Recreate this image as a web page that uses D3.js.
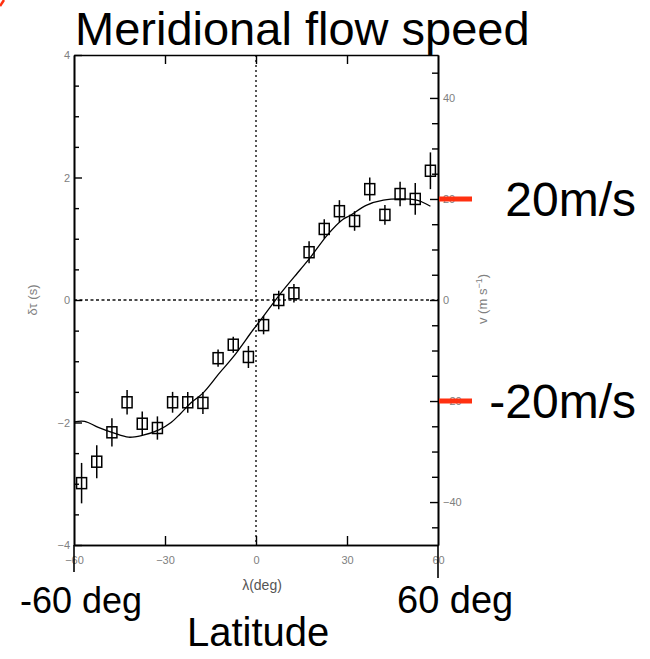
<!DOCTYPE html>
<html><head><meta charset="utf-8">
<script src="https://cdn.jsdelivr.net/npm/d3@7"></script>
<style>body{margin:0;background:#fff}svg{display:block}</style>
</head><body><svg id="c" width="650" height="659"></svg>
<script>
// ---- data ----
const lat = [-57.5,-52.5,-47.5,-42.5,-37.5,-32.5,-27.5,-22.5,-17.5,-12.5,-7.5,-2.5,2.5,7.5,12.5,17.5,22.5,27.5,32.5,37.5,42.5,47.5,52.5,57.5];
const tau = [-2.99,-2.64,-2.16,-1.67,-2.02,-2.09,-1.67,-1.67,-1.68,-0.95,-0.73,-0.93,-0.41,0.0,0.11,0.78,1.16,1.45,1.29,1.81,1.39,1.73,1.65,2.11];
const tauErr = [0.33,0.27,0.23,0.2,0.2,0.19,0.17,0.17,0.18,0.14,0.13,0.18,0.15,0.15,0.15,0.18,0.16,0.18,0.16,0.19,0.16,0.2,0.26,0.3];
const fitLat = [-60,-56.5,-52,-47,-42,-37.5,-32,-28,-25,-21.5,-17.5,-12,-7.5,-1,1.5,8,14.5,18,23.5,28.5,31,36.5,42,47.5,53,57.5];
const fitTau = [-1.99,-1.98,-2.08,-2.17,-2.24,-2.21,-2.12,-2.0,-1.86,-1.68,-1.52,-1.19,-0.93,-0.49,-0.33,0.1,0.49,0.7,1.06,1.31,1.38,1.55,1.63,1.65,1.63,1.53];
const xTicks = [-60,-30,0,30,60];
const xInner = [-30,0,30];
const yTicks = [-4,-2,0,2,4];
const yMinor = [-3.5,-3,-2.5,-1.5,-1,-0.5,0.5,1,1.5,2.5,3,3.5];
const vTicks = [-40,-20,0,20,40];
const vMinor = [-45,-35,-30,-25,-15,-10,-5,5,10,15,25,30,35,45];
const vMarks = [20,-20];
const vMarkLabels = ["20m/s","-20m/s"];
const vMax = 48.5;

// ---- scales ----
const svg = d3.select("#c");
const x = d3.scaleLinear().domain([-60,60]).range([74,438]);
const y = d3.scaleLinear().domain([-4,4]).range([545,55]);
const yv = d3.scaleLinear().domain([-vMax,vMax]).range([545,55]);
const gray = "#808080";
const tickFont = "Liberation Sans, Arial, sans-serif";

// corner red mark
svg.append("line").attr("x1",0).attr("y1",6).attr("x2",4).attr("y2",0)
  .attr("stroke","#ff3010").attr("stroke-width",2.5);

// title
svg.append("text").attr("x",75).attr("y",45).attr("font-family",tickFont)
  .attr("font-size",47).attr("fill","#000").text("Meridional flow speed");

// reference dashed lines
svg.append("line").attr("x1",x(-60)).attr("x2",x(60)).attr("y1",y(0)).attr("y2",y(0))
  .attr("stroke","#111").attr("stroke-width",1.4).attr("stroke-dasharray","3,2.5");
svg.append("line").attr("x1",x(0)).attr("x2",x(0)).attr("y1",y(4)).attr("y2",y(-4))
  .attr("stroke","#111").attr("stroke-width",1.4).attr("stroke-dasharray","2,3");

// axes
function styleAxis(g){
  g.selectAll("path.domain").attr("stroke","#000").attr("stroke-width",1.6);
  g.selectAll(".tick line").attr("stroke","#000").attr("stroke-width",1.4);
  g.selectAll(".tick text").attr("fill",gray).attr("font-family",tickFont).attr("font-size",11);
}
// left
const gl = svg.append("g").attr("transform",`translate(${x(-60)},0)`)
  .call(d3.axisLeft(y).tickValues(yTicks).tickSize(-8).tickSizeOuter(0).tickPadding(4).tickFormat(d3.format("d")));
styleAxis(gl);
const glm = svg.append("g").attr("transform",`translate(${x(-60)},0)`)
  .call(d3.axisLeft(y).tickValues(yMinor).tickSize(-5).tickSizeOuter(0).tickFormat(""));
styleAxis(glm);
// right
const gr = svg.append("g").attr("transform",`translate(${x(60)},0)`)
  .call(d3.axisRight(yv).tickValues(vTicks).tickSize(-8).tickSizeOuter(0).tickPadding(5).tickFormat(d3.format("d")));
styleAxis(gr);
const grm = svg.append("g").attr("transform",`translate(${x(60)},0)`)
  .call(d3.axisRight(yv).tickValues(vMinor).tickSize(-6).tickSizeOuter(0).tickFormat(""));
styleAxis(grm);
// bottom
const gb = svg.append("g").attr("transform",`translate(0,${y(-4)})`)
  .call(d3.axisBottom(x).tickValues(xTicks).tickSize(0).tickSizeOuter(0).tickPadding(11).tickFormat(d3.format("d")));
styleAxis(gb);
const gbi = svg.append("g").attr("transform",`translate(0,${y(-4)})`)
  .call(d3.axisBottom(x).tickValues(xInner).tickSize(-9).tickSizeOuter(0).tickFormat(""));
styleAxis(gbi);
// top
const gt = svg.append("g").attr("transform",`translate(0,${y(4)})`)
  .call(d3.axisTop(x).tickValues(xInner).tickSize(-9).tickSizeOuter(0).tickFormat(""));
styleAxis(gt);
// extended frame lines below the axis
svg.append("line").attr("x1",x(-60)).attr("x2",x(-60)).attr("y1",y(-4)).attr("y2",y(-4)+27)
  .attr("stroke","#000").attr("stroke-width",1.6);
svg.append("line").attr("x1",x(60)).attr("x2",x(60)).attr("y1",y(-4)).attr("y2",y(-4)+33)
  .attr("stroke","#000").attr("stroke-width",1.6);

// axis titles
svg.append("text").attr("transform",`translate(37,${y(0)}) rotate(-90)`)
  .attr("text-anchor","middle").attr("font-family",tickFont).attr("font-size",13).attr("fill",gray)
  .text("δτ (s)");
const vl = svg.append("text").attr("transform",`translate(487,${y(0)-1}) rotate(-90)`)
  .attr("text-anchor","middle").attr("font-family",tickFont).attr("font-size",13).attr("fill",gray);
vl.append("tspan").text("v (m s");
vl.append("tspan").attr("dy",-5).attr("font-size",9).text("−1");
vl.append("tspan").attr("dy",5).text(")");
svg.append("text").attr("x",262).attr("y",590).attr("text-anchor","middle")
  .attr("font-family",tickFont).attr("font-size",14).attr("fill","#555").text("λ(deg)");

// fit curve
svg.append("path").datum(fitLat.map((d,i)=>[d,fitTau[i]]))
  .attr("fill","none").attr("stroke","#000").attr("stroke-width",1.3)
  .attr("d",d3.line().x(d=>x(d[0])).y(d=>y(d[1])).curve(d3.curveCatmullRom));

// data points with error bars
const pts = svg.append("g").selectAll("g").data(lat.map((d,i)=>({l:d,t:tau[i],e:tauErr[i]}))).join("g");
pts.append("line").attr("x1",d=>x(d.l)).attr("x2",d=>x(d.l))
  .attr("y1",d=>y(d.t+d.e)).attr("y2",d=>y(d.t-d.e)).attr("stroke","#000").attr("stroke-width",1.5);
pts.append("rect").attr("x",d=>x(d.l)-5).attr("y",d=>y(d.t)-5.5).attr("width",10).attr("height",11)
  .attr("fill","none").attr("stroke","#000").attr("stroke-width",1.5);

// red markers at +-20 m/s
svg.append("g").selectAll("line").data(vMarks).join("line")
  .attr("x1",x(60)+1).attr("x2",x(60)+34).attr("y1",d=>yv(d)).attr("y2",d=>yv(d))
  .attr("stroke","#ff3010").attr("stroke-width",5);
svg.append("g").selectAll("text").data(vMarks).join("text")
  .attr("x",636).attr("y",d=>yv(d)+17).attr("text-anchor","end")
  .attr("font-family",tickFont).attr("font-size",48).attr("fill","#000")
  .text((d,i)=>vMarkLabels[i]);

// bottom big labels
svg.append("text").attr("x",20).attr("y",613).attr("font-family",tickFont).attr("font-size",36).attr("fill","#000").text("-60 deg");
svg.append("text").attr("x",397).attr("y",613).attr("font-family",tickFont).attr("font-size",38).attr("fill","#000").text("60 deg");
svg.append("text").attr("x",187).attr("y",646).attr("font-family",tickFont).attr("font-size",40).attr("fill","#000").text("Latitude");
</script></body></html>
